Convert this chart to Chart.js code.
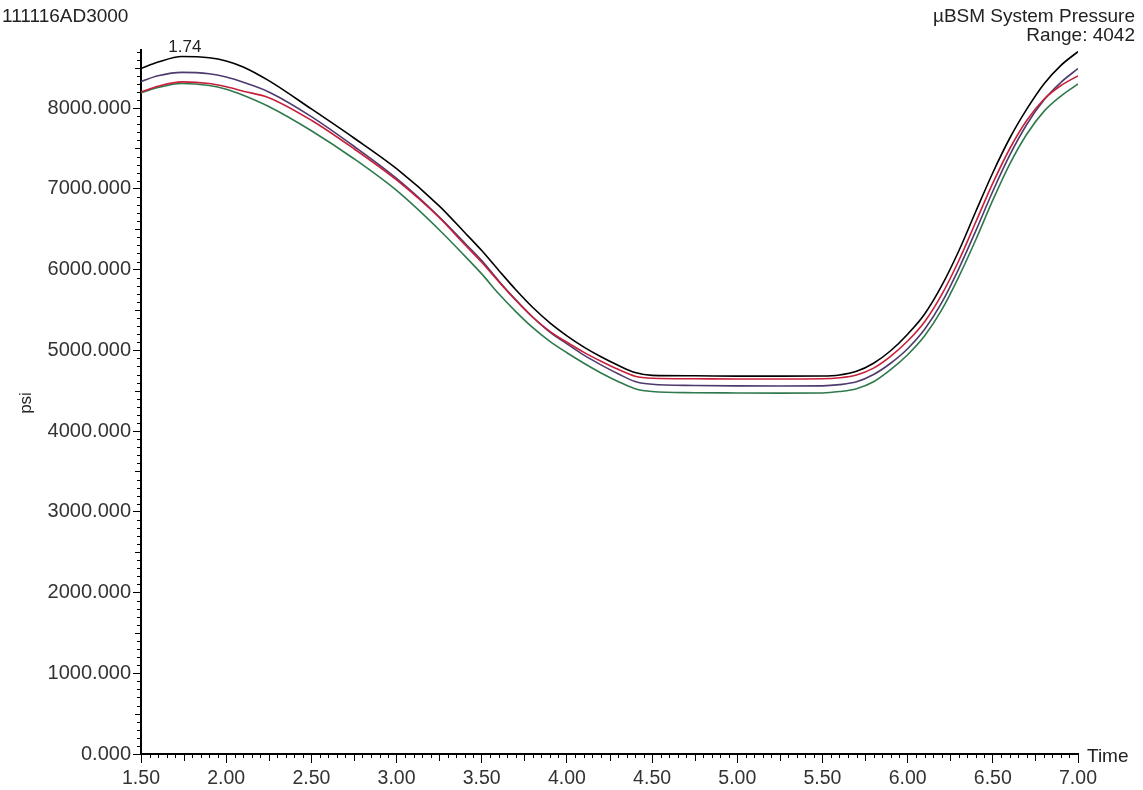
<!DOCTYPE html>
<html><head><meta charset="utf-8">
<script src="https://cdn.jsdelivr.net/npm/chart.js@4.4.0/dist/chart.umd.min.js"></script>
<style>html,body{margin:0;padding:0;background:#fff}#wrap{position:relative;width:1143px;height:790px}</style>
</head><body><div id="wrap"><canvas id="c" width="1143" height="790"></canvas></div>
<script>
const times        = [1.50, 1.60, 1.74, 1.90, 2.00, 2.10, 2.25, 2.50, 2.75, 3.00, 3.25, 3.40, 3.50, 3.60, 3.70, 3.80, 3.90, 4.00, 4.10, 4.20, 4.30, 4.40, 4.50, 4.75, 5.00, 5.25, 5.50, 5.60, 5.70, 5.80, 5.90, 6.00, 6.10, 6.20, 6.30, 6.40, 6.50, 6.60, 6.70, 6.80, 6.90, 7.00];
const seriesBlack  = [8490, 8570, 8640, 8625, 8585, 8510, 8340, 7990, 7630, 7250, 6790, 6460, 6236, 5990, 5750, 5530, 5340, 5180, 5040, 4920, 4815, 4725, 4690, 4685, 4680, 4680, 4682, 4695, 4740, 4840, 4995, 5200, 5450, 5800, 6230, 6720, 7200, 7630, 7990, 8300, 8530, 8700];
const seriesRed    = [8200, 8270, 8325, 8305, 8265, 8210, 8130, 7850, 7497, 7110, 6645, 6310, 6091, 5850, 5620, 5410, 5235, 5100, 4975, 4865, 4765, 4680, 4655, 4648, 4645, 4645, 4648, 4660, 4695, 4780, 4925, 5115, 5355, 5690, 6110, 6590, 7070, 7500, 7850, 8110, 8280, 8400];
const seriesPurple = [8330, 8400, 8443, 8425, 8385, 8320, 8200, 7895, 7528, 7130, 6655, 6330, 6112, 5860, 5625, 5410, 5225, 5080, 4940, 4820, 4710, 4615, 4580, 4565, 4560, 4558, 4560, 4575, 4610, 4700, 4840, 5020, 5260, 5590, 6010, 6480, 6970, 7420, 7800, 8100, 8320, 8490];
const seriesGreen  = [8190, 8255, 8305, 8280, 8235, 8160, 8020, 7720, 7373, 6980, 6494, 6170, 5947, 5700, 5480, 5280, 5110, 4970, 4840, 4720, 4615, 4525, 4490, 4475, 4472, 4470, 4472, 4490, 4525, 4610, 4760, 4945, 5180, 5500, 5910, 6370, 6860, 7310, 7680, 7960, 8150, 8300];
const xMajorTicks = [1.5, 2.0, 2.5, 3.0, 3.5, 4.0, 4.5, 5.0, 5.5, 6.0, 6.5, 7.0];
const yMajorTicks = [0, 1000, 2000, 3000, 4000, 5000, 6000, 7000, 8000];
const peakLabel = "1.74";
const peakTime = 1.74;
const leftTitle = "111116AD3000";
const rightTitle = ["µBSM System Pressure", "Range: 4042"];
const yTitle = "psi";
const xTitle = "Time";

const FONT = "'Liberation Sans', Arial, sans-serif";
const pts = arr => times.map((t, i) => ({x: t, y: arr[i]}));

const decor = {
  id: 'decor',
  afterDraw(chart) {
    const ctx = chart.ctx, xs = chart.scales.x, ys = chart.scales.y, a = chart.chartArea;
    ctx.save();
    ctx.strokeStyle = '#000'; ctx.lineWidth = 1;
    for (let i = 0; i <= 110; i++) {
      if (i % 10 === 0) continue;
      const len = (i % 5 === 0) ? 7 : 4;
      const px = Math.round(xs.getPixelForValue(1.5 + i * 0.05)) + 0.5;
      ctx.beginPath(); ctx.moveTo(px, a.bottom); ctx.lineTo(px, a.bottom + len); ctx.stroke();
    }
    for (let i = 1; i <= 87; i++) {
      if (i % 10 === 0) continue;
      const len = (i % 5 === 0) ? 6 : 4;
      const py = Math.round(ys.getPixelForValue(i * 100)) + 0.5;
      ctx.beginPath(); ctx.moveTo(a.left, py); ctx.lineTo(a.left - len, py); ctx.stroke();
    }
    ctx.fillStyle = '#222';
    ctx.font = '19px ' + FONT;
    ctx.textBaseline = 'alphabetic';
    ctx.textAlign = 'left';
    ctx.fillText(leftTitle, 2, 22);
    ctx.textAlign = 'right';
    ctx.fillText(rightTitle[0], 1135, 22);
    ctx.fillText(rightTitle[1], 1135, 41);
    ctx.textAlign = 'left';
    ctx.textBaseline = 'middle';
    ctx.fillText(xTitle, 1087, a.bottom + 3);
    ctx.font = '17px ' + FONT;
    ctx.textAlign = 'center';
    ctx.textBaseline = 'alphabetic';
    const pi = times.indexOf(peakTime);
    ctx.fillText(peakLabel, xs.getPixelForValue(peakTime) + 3, ys.getPixelForValue(seriesBlack[pi]) - 4);
    ctx.save();
    ctx.translate(26, 403);
    ctx.rotate(-Math.PI / 2);
    ctx.textBaseline = 'middle';
    ctx.fillText(yTitle, 0, 0);
    ctx.restore();
    ctx.restore();
  }
};

const ds = (label, arr, color) => ({
  label, data: pts(arr), borderColor: color, backgroundColor: color,
  borderWidth: 1.6, pointRadius: 0, cubicInterpolationMode: 'monotone', fill: false
});

new Chart(document.getElementById('c'), {
  type: 'line',
  data: {
    datasets: [
      ds('Black', seriesBlack, '#000000'),
      ds('Red', seriesRed, '#c8203a'),
      ds('Purple', seriesPurple, '#4e3a6e'),
      ds('Green', seriesGreen, '#2e7a4c')
    ]
  },
  options: {
    responsive: false,
    devicePixelRatio: 1,
    animation: false,
    layout: {padding: {top: 50, right: 65, left: 0, bottom: 0}},
    plugins: {legend: {display: false}, tooltip: {enabled: false}},
    scales: {
      x: {
        type: 'linear', min: 1.5, max: 7.0,
        afterBuildTicks: s => { s.ticks = xMajorTicks.map(v => ({value: v})); },
        afterFit: s => { s.height = 36; },
        ticks: {callback: v => Number(v).toFixed(2), color: '#333', font: {size: 19.5, family: FONT}, padding: 4, maxRotation: 0, autoSkip: false},
        grid: {drawOnChartArea: false, drawTicks: true, tickLength: 9, color: '#000', lineWidth: 1},
        border: {display: true, color: '#000', width: 2}
      },
      y: {
        type: 'linear', min: 0, max: 8720,
        afterBuildTicks: s => { s.ticks = yMajorTicks.map(v => ({value: v})); },
        afterFit: s => { s.width = 141; },
        ticks: {callback: v => Number(v).toFixed(3), color: '#333', font: {size: 20, family: FONT}, padding: 2},
        grid: {drawOnChartArea: false, drawTicks: true, tickLength: 8, color: '#000', lineWidth: 1},
        border: {display: true, color: '#000', width: 2}
      }
    }
  },
  plugins: [decor]
});
</script>
</body></html>
